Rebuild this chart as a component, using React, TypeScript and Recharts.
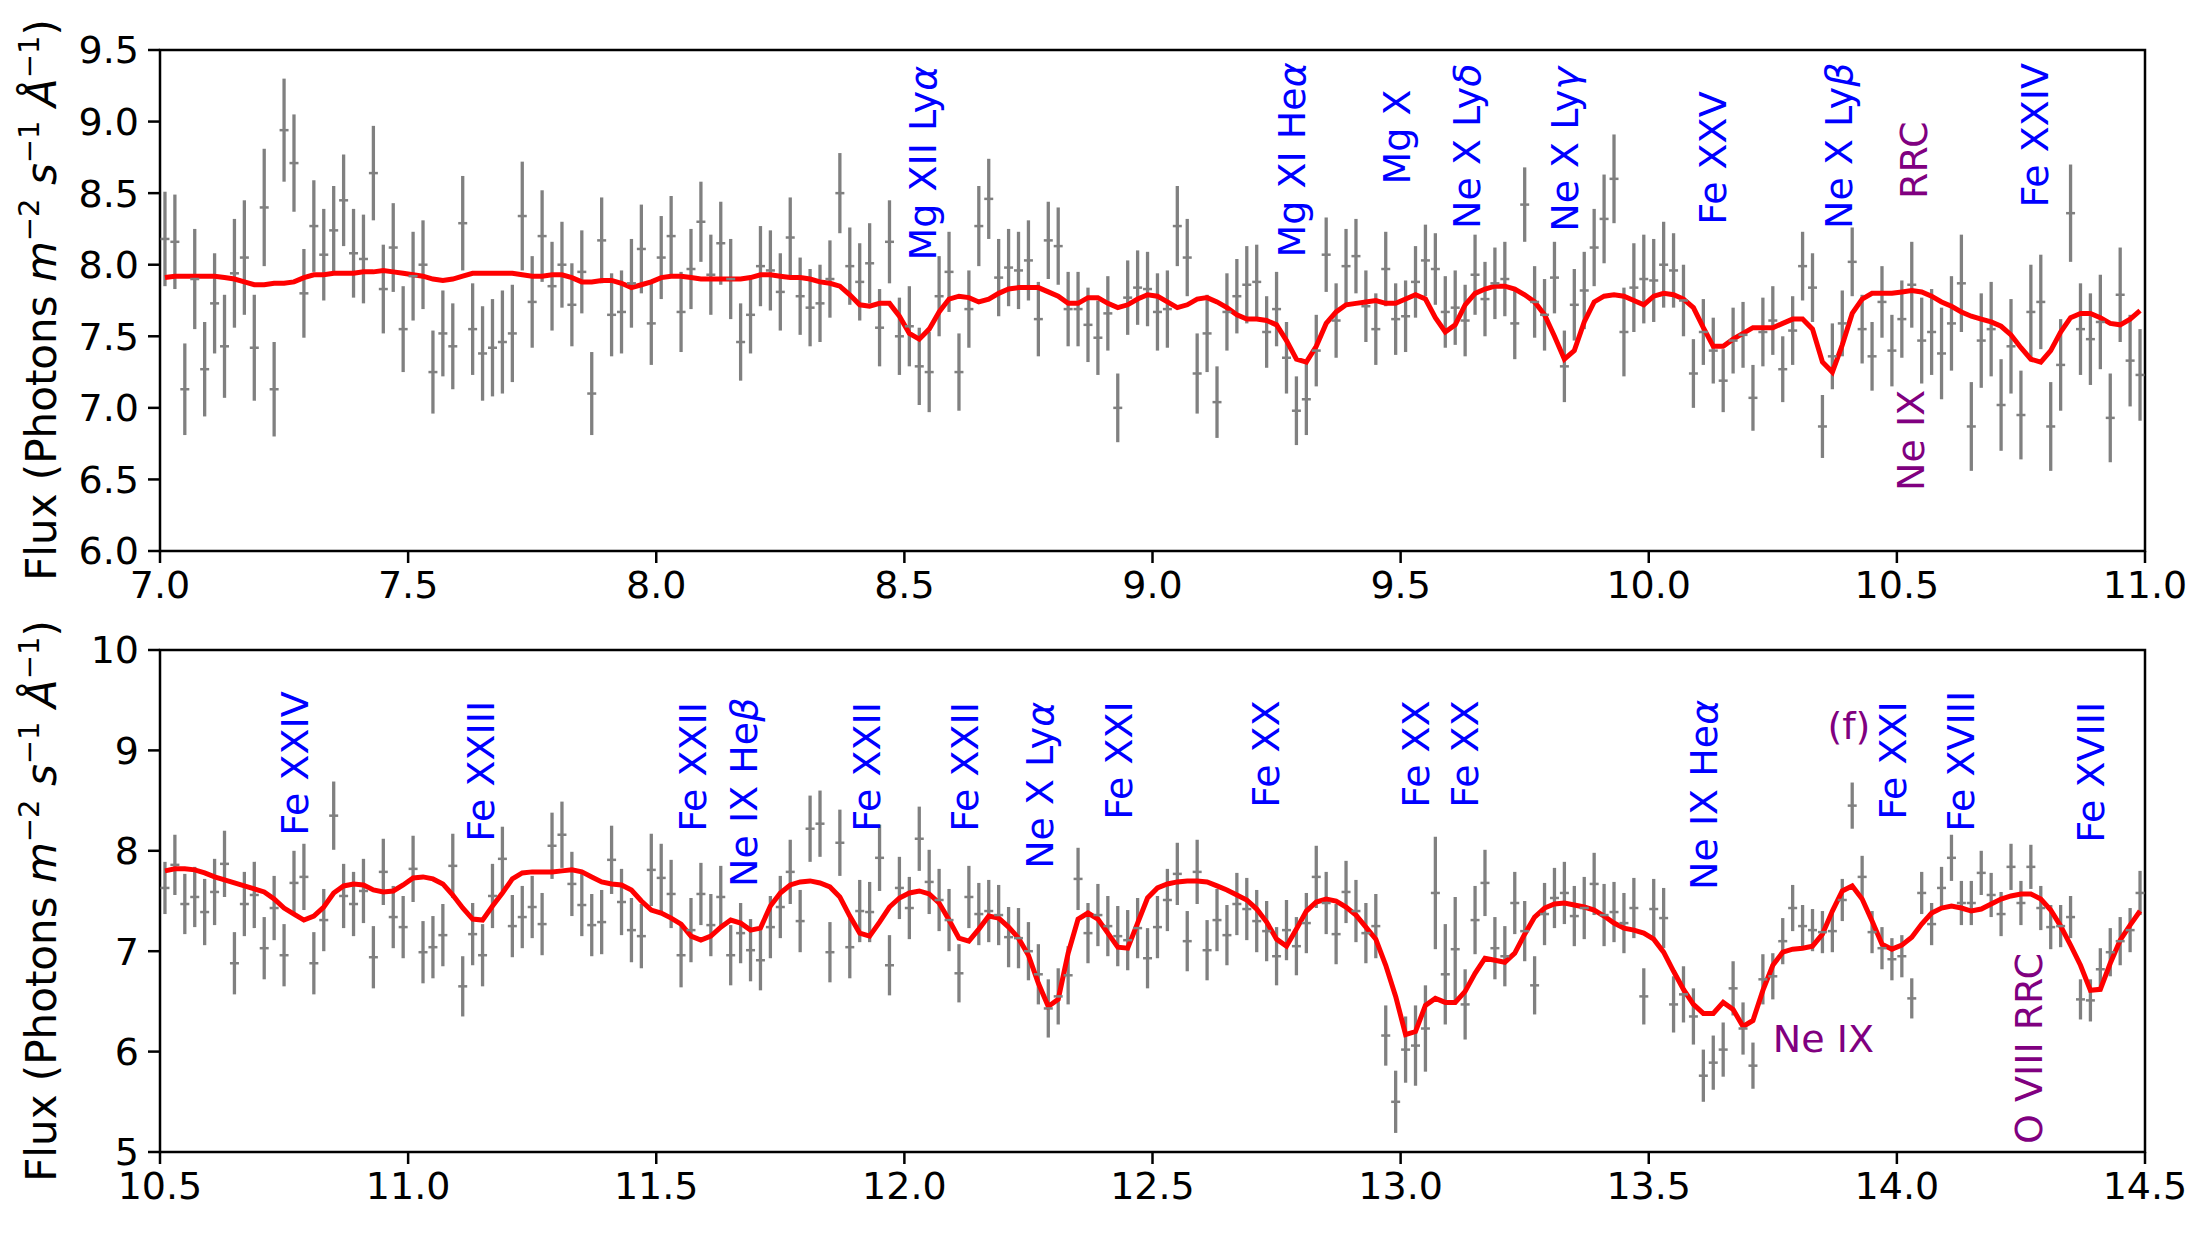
import React from "react";
import {
  ComposedChart,
  ErrorBar,
  Line,
  ReferenceArea,
  Scatter,
  XAxis,
  YAxis,
} from "recharts";

const BLUE = "#0000ff";
const PURPLE = "#800080";
const GREY = "#808080";
const FONT = "DejaVu Sans";

// wavelength grid: bins of 0.02 A, first bin centre given per panel
const STEP = 0.02;
const topStart = 7.01;
const bottomStart = 10.51;

const topXTicks = [7, 7.5, 8, 8.5, 9, 9.5, 10, 10.5, 11];
const topYTicks = [6, 6.5, 7, 7.5, 8, 8.5, 9, 9.5];
const bottomXTicks = [10.5, 11, 11.5, 12, 12.5, 13, 13.5, 14, 14.5];
const bottomYTicks = [5, 6, 7, 8, 9, 10];

const topFlux = [
  8.18, 8.16, 7.13, 7.9, 7.27, 7.73, 7.43, 7.94, 8.05, 7.42,
  8.4, 7.13, 8.94, 8.71, 7.8, 8.27, 8.07, 8.24, 8.45, 8.08,
  8.04, 8.64, 7.83, 8.12, 7.55, 7.92, 8.0, 7.25, 7.52, 7.43,
  8.29, 7.55, 7.38, 7.42, 7.46, 7.52, 8.34, 7.74, 8.2, 7.85,
  8.0, 7.72, 7.95, 7.1, 8.17, 7.65, 7.67, 7.87, 8.11, 7.59,
  8.05, 8.2, 7.67, 7.97, 8.3, 7.93, 8.15, 7.9, 7.46, 7.65,
  7.99, 7.96, 7.81, 8.19, 7.78, 7.7, 7.73, 7.9, 8.5, 7.99,
  7.88, 8.01, 7.56, 8.16, 7.5, 7.57, 7.29, 7.25, 7.78, 7.95,
  7.25, 7.69, 8.27, 8.46, 7.91, 7.98, 7.96, 8.03, 7.62, 8.17,
  8.13, 7.69, 7.69, 7.58, 7.49, 7.66, 7.0, 7.77, 7.84, 7.83,
  7.67, 7.69, 8.27, 8.05, 7.24, 7.52, 7.04, 7.67, 7.78, 7.86,
  7.88, 7.53, 7.69, 7.35, 6.98, 7.06, 7.4, 8.07, 7.61, 7.99,
  8.06, 7.71, 7.55, 7.97, 7.62, 7.64, 7.88, 8.03, 7.97, 7.67,
  7.7, 7.61, 7.93, 7.76, 7.87, 7.9, 7.59, 8.42, 7.74, 7.65,
  7.91, 7.29, 7.72, 7.82, 8.12, 8.32, 8.6, 7.53, 7.84, 7.9,
  7.89, 8.0, 7.96, 7.75, 7.24, 7.53, 7.4, 7.19, 7.47, 7.51,
  7.07, 7.53, 7.61, 7.27, 7.54, 7.99, 7.84, 6.87, 7.36, 7.59,
  8.02, 7.55, 7.36, 7.74, 7.4, 7.62, 7.86, 7.47, 7.53, 7.38,
  7.59, 7.87, 6.87, 7.47, 7.55, 7.02, 7.43, 6.95, 7.67, 7.74,
  6.87, 7.3, 8.36, 7.55, 7.48, 7.6, 6.93, 7.79, 7.33, 7.23,
];

const topErr = [
  0.33, 0.33, 0.32, 0.35, 0.33, 0.35, 0.36, 0.38, 0.4, 0.37,
  0.41, 0.33, 0.36, 0.34, 0.31, 0.32, 0.32, 0.31, 0.32, 0.31,
  0.31, 0.33, 0.31, 0.31, 0.3, 0.31, 0.31, 0.29, 0.3, 0.3,
  0.33, 0.32, 0.33, 0.34, 0.36, 0.34, 0.38, 0.32, 0.32, 0.31,
  0.3, 0.29, 0.29, 0.29, 0.3, 0.29, 0.29, 0.31, 0.31, 0.29,
  0.29, 0.28, 0.28, 0.28, 0.28, 0.28, 0.29, 0.28, 0.27, 0.27,
  0.28, 0.28, 0.27, 0.28, 0.27, 0.27, 0.27, 0.27, 0.28, 0.27,
  0.27, 0.28, 0.27, 0.29, 0.27, 0.28, 0.27, 0.28, 0.28, 0.28,
  0.27, 0.27, 0.28, 0.28, 0.27, 0.27, 0.27, 0.28, 0.26, 0.27,
  0.27, 0.26, 0.26, 0.26, 0.26, 0.26, 0.24, 0.26, 0.26, 0.26,
  0.27, 0.27, 0.28, 0.27, 0.28, 0.27, 0.25, 0.27, 0.26, 0.27,
  0.26, 0.25, 0.26, 0.25, 0.24, 0.25, 0.25, 0.26, 0.26, 0.26,
  0.26, 0.25, 0.25, 0.26, 0.25, 0.25, 0.25, 0.25, 0.25, 0.25,
  0.26, 0.25, 0.28, 0.26, 0.25, 0.26, 0.25, 0.26, 0.25, 0.25,
  0.25, 0.25, 0.25, 0.27, 0.27, 0.31, 0.31, 0.31, 0.31, 0.31,
  0.29, 0.3, 0.26, 0.25, 0.24, 0.23, 0.23, 0.22, 0.23, 0.23,
  0.23, 0.24, 0.24, 0.23, 0.24, 0.24, 0.24, 0.22, 0.23, 0.23,
  0.24, 0.24, 0.24, 0.25, 0.25, 0.27, 0.3, 0.3, 0.3, 0.32,
  0.33, 0.34, 0.31, 0.33, 0.33, 0.32, 0.33, 0.31, 0.33, 0.33,
  0.31, 0.32, 0.34, 0.32, 0.32, 0.33, 0.31, 0.33, 0.32, 0.32,
];

const topModel = [
  7.91, 7.92, 7.92, 7.92, 7.92, 7.92, 7.91, 7.9, 7.88, 7.86,
  7.86, 7.87, 7.87, 7.88, 7.91, 7.93, 7.93, 7.94, 7.94, 7.94,
  7.95, 7.95, 7.96, 7.95, 7.94, 7.93, 7.92, 7.9, 7.89, 7.9,
  7.92, 7.94, 7.94, 7.94, 7.94, 7.94, 7.93, 7.92, 7.92, 7.93,
  7.93, 7.91, 7.88, 7.88, 7.89, 7.89, 7.87, 7.84, 7.86, 7.88,
  7.91, 7.92, 7.92, 7.91, 7.9, 7.9, 7.9, 7.9, 7.9, 7.91,
  7.93, 7.93, 7.92, 7.91, 7.91, 7.9, 7.88, 7.87, 7.85, 7.79,
  7.72, 7.71, 7.73, 7.73, 7.64, 7.52, 7.48, 7.55, 7.67, 7.76,
  7.78, 7.77, 7.74, 7.76, 7.8, 7.83, 7.84, 7.84, 7.84, 7.81,
  7.78, 7.73, 7.73, 7.77, 7.77, 7.73, 7.7, 7.72, 7.76, 7.79,
  7.78, 7.74, 7.7, 7.72, 7.76, 7.77, 7.74, 7.7, 7.65, 7.62,
  7.62, 7.61, 7.58, 7.47, 7.34, 7.32, 7.43, 7.59, 7.67, 7.72,
  7.73, 7.74, 7.75, 7.73, 7.73, 7.76, 7.79, 7.76, 7.63, 7.53,
  7.58, 7.72, 7.8, 7.83, 7.85, 7.85, 7.83, 7.79, 7.74, 7.65,
  7.5, 7.34, 7.4, 7.6, 7.74, 7.78, 7.79, 7.78, 7.75, 7.72,
  7.78, 7.8, 7.79, 7.76, 7.7, 7.56, 7.43, 7.43, 7.48, 7.52,
  7.56, 7.56, 7.56, 7.59, 7.62, 7.62, 7.55, 7.32, 7.25, 7.44,
  7.66, 7.76, 7.8, 7.8, 7.8, 7.81, 7.82, 7.81, 7.78, 7.74,
  7.71, 7.67, 7.64, 7.62, 7.6, 7.57, 7.51, 7.42, 7.34, 7.32,
  7.4, 7.53, 7.63, 7.66, 7.66, 7.63, 7.59, 7.58, 7.62, 7.68,
];

const bottomFlux = [
  7.63, 7.86, 7.47, 7.54, 7.39, 7.59, 7.87, 6.88, 7.47, 7.56,
  7.03, 7.43, 6.96, 7.68, 7.74, 6.88, 7.31, 8.35, 7.55, 7.47,
  7.6, 6.94, 7.79, 7.34, 7.24, 7.82, 6.99, 7.04, 7.16, 7.85,
  6.65, 7.17, 6.96, 7.55, 7.92, 7.25, 7.34, 7.44, 7.27, 8.05,
  8.16, 7.67, 7.46, 7.26, 7.29, 7.91, 7.49, 7.21, 7.15, 7.81,
  7.73, 7.57, 6.96, 7.21, 7.57, 7.26, 7.54, 6.96, 7.18, 7.01,
  6.91, 7.24, 7.44, 7.79, 7.3, 8.22, 8.27, 6.99, 8.08, 7.04,
  7.4, 7.39, 7.93, 6.86, 7.63, 7.43, 8.12, 7.69, 7.51, 7.31,
  6.78, 7.54, 7.37, 7.4, 7.36, 7.14, 7.13, 7.0, 6.77, 6.43,
  6.55, 6.76, 7.72, 7.18, 7.36, 7.25, 7.15, 7.11, 7.23, 6.93,
  7.24, 7.51, 7.77, 7.1, 7.79, 7.01, 7.31, 7.16, 7.47, 7.42,
  7.3, 7.2, 6.95, 7.21, 7.05, 7.28, 7.74, 7.48, 7.17, 7.59,
  7.4, 7.18, 7.25, 6.16, 5.5, 6.02, 6.06, 6.23, 7.58, 6.77,
  7.02, 6.47, 7.31, 7.68, 7.03, 6.95, 7.48, 7.2, 6.66, 7.37,
  7.53, 7.58, 7.35, 7.43, 7.67, 7.36, 7.39, 7.28, 7.43, 6.55,
  7.42, 7.33, 6.47, 6.57, 6.35, 5.76, 5.89, 6.02, 6.63, 6.23,
  5.86, 6.72, 6.75, 7.1, 7.43, 7.25, 7.21, 7.19, 7.2, 7.51,
  8.45, 7.74, 7.19, 7.03, 6.92, 6.95, 6.53, 7.58, 7.27, 7.63,
  7.93, 7.48, 7.48, 7.78, 7.56, 7.37, 7.84, 7.48, 7.84, 7.43,
  7.24, 7.25, 7.34, 6.52, 6.51, 6.82, 6.99, 7.1, 7.21, 7.58,
];

const bottomErr = [
  0.26, 0.3, 0.3, 0.3, 0.33, 0.33, 0.33, 0.31, 0.32, 0.33,
  0.31, 0.32, 0.31, 0.32, 0.33, 0.31, 0.31, 0.34, 0.32, 0.32,
  0.32, 0.31, 0.33, 0.31, 0.31, 0.33, 0.31, 0.31, 0.31, 0.32,
  0.3, 0.31, 0.31, 0.32, 0.32, 0.31, 0.31, 0.31, 0.31, 0.33,
  0.33, 0.32, 0.31, 0.31, 0.32, 0.34, 0.33, 0.32, 0.32, 0.36,
  0.34, 0.34, 0.32, 0.32, 0.31, 0.31, 0.31, 0.3, 0.3, 0.31,
  0.3, 0.31, 0.31, 0.32, 0.31, 0.33, 0.33, 0.3, 0.33, 0.31,
  0.31, 0.3, 0.33, 0.3, 0.31, 0.31, 0.32, 0.32, 0.31, 0.31,
  0.29, 0.31, 0.31, 0.31, 0.3, 0.3, 0.3, 0.29, 0.3, 0.29,
  0.28, 0.29, 0.31, 0.3, 0.31, 0.3, 0.3, 0.3, 0.3, 0.3,
  0.31, 0.31, 0.31, 0.3, 0.32, 0.3, 0.31, 0.3, 0.31, 0.31,
  0.31, 0.3, 0.29, 0.3, 0.29, 0.3, 0.31, 0.31, 0.3, 0.31,
  0.31, 0.3, 0.32, 0.3, 0.31, 0.33, 0.4, 0.43, 0.56, 0.5,
  0.52, 0.35, 0.34, 0.33, 0.31, 0.3, 0.31, 0.3, 0.29, 0.31,
  0.3, 0.31, 0.3, 0.31, 0.31, 0.31, 0.3, 0.3, 0.3, 0.28,
  0.3, 0.3, 0.28, 0.28, 0.28, 0.26, 0.27, 0.27, 0.27, 0.26,
  0.23, 0.25, 0.23, 0.23, 0.23, 0.21, 0.21, 0.21, 0.21, 0.21,
  0.23, 0.21, 0.21, 0.21, 0.21, 0.21, 0.2, 0.21, 0.21, 0.21,
  0.23, 0.22, 0.22, 0.22, 0.22, 0.22, 0.23, 0.22, 0.22, 0.22,
  0.22, 0.21, 0.21, 0.2, 0.21, 0.21, 0.24, 0.24, 0.22, 0.22,
];

const bottomModel = [
  7.8, 7.82, 7.82, 7.81, 7.78, 7.74, 7.71, 7.68, 7.65, 7.62,
  7.59, 7.52, 7.43, 7.37, 7.31, 7.35, 7.44, 7.58, 7.65, 7.67,
  7.66, 7.61, 7.59, 7.6, 7.66, 7.73, 7.74, 7.72, 7.67, 7.56,
  7.43, 7.32, 7.31, 7.45, 7.58, 7.72, 7.78, 7.79, 7.79, 7.79,
  7.8, 7.81, 7.79, 7.74, 7.69, 7.67, 7.66, 7.61, 7.5, 7.41,
  7.38, 7.33, 7.27, 7.15, 7.11, 7.15, 7.24, 7.31, 7.28, 7.21,
  7.23, 7.45, 7.58, 7.66, 7.69, 7.7, 7.68, 7.64, 7.54, 7.35,
  7.18, 7.15, 7.29, 7.44, 7.53, 7.58, 7.6, 7.57, 7.48, 7.31,
  7.13, 7.1, 7.22, 7.35, 7.33, 7.24, 7.13, 6.96, 6.68, 6.45,
  6.52, 6.98, 7.32, 7.38, 7.32, 7.18, 7.04, 7.03, 7.28, 7.53,
  7.63, 7.67, 7.69, 7.7, 7.7, 7.69, 7.65, 7.61, 7.56, 7.51,
  7.42, 7.29, 7.12, 7.05, 7.22, 7.4, 7.49, 7.52, 7.5, 7.44,
  7.36, 7.24, 7.12, 6.86, 6.55, 6.17, 6.2, 6.46, 6.53, 6.49,
  6.49, 6.6, 6.78, 6.93, 6.91, 6.89, 6.98, 7.17, 7.34, 7.43,
  7.47, 7.48, 7.46, 7.44, 7.41, 7.35, 7.28, 7.23, 7.21, 7.18,
  7.12, 6.99, 6.8, 6.62, 6.47, 6.38, 6.38, 6.49, 6.42, 6.25,
  6.31, 6.61, 6.86, 6.99, 7.02, 7.03, 7.05, 7.17, 7.4, 7.6,
  7.65, 7.52, 7.3, 7.07, 7.02, 7.06, 7.14, 7.27, 7.38, 7.43,
  7.45, 7.43, 7.4, 7.42, 7.47, 7.52, 7.55, 7.57, 7.57, 7.52,
  7.41, 7.25, 7.06, 6.86, 6.61, 6.62, 6.88, 7.11, 7.26, 7.4,
];

type LineLabel = { x: number; y: number; text: string; color: string; flat?: boolean };

const topLabels: LineLabel[] = [
  { x: 8.563, y: 8.03, text: "Mg XII Lyα", color: BLUE },
  { x: 9.307, y: 8.05, text: "Mg XI Heα", color: BLUE },
  { x: 9.519, y: 8.56, text: "Mg X", color: BLUE },
  { x: 9.66, y: 8.25, text: "Ne X Lyδ", color: BLUE },
  { x: 9.858, y: 8.23, text: "Ne X Lyγ", color: BLUE },
  { x: 10.155, y: 8.28, text: "Fe XXV", color: BLUE },
  { x: 10.409, y: 8.25, text: "Ne X Lyβ", color: BLUE },
  { x: 10.56, y: 8.46, text: "RRC", color: PURPLE },
  { x: 10.804, y: 8.4, text: "Fe XXIV", color: BLUE },
  { x: 10.554, y: 6.42, text: "Ne IX", color: PURPLE },
];

const bottomLabels: LineLabel[] = [
  { x: 10.799, y: 8.15, text: "Fe XXIV", color: BLUE },
  { x: 11.173, y: 8.09, text: "Fe XXIII", color: BLUE },
  { x: 11.601, y: 8.19, text: "Fe XXII", color: BLUE },
  { x: 11.703, y: 7.64, text: "Ne IX Heβ", color: BLUE },
  { x: 11.95, y: 8.19, text: "Fe XXII", color: BLUE },
  { x: 12.148, y: 8.19, text: "Fe XXII", color: BLUE },
  { x: 12.3, y: 7.82, text: "Ne X Lyα", color: BLUE },
  { x: 12.458, y: 8.31, text: "Fe XXI", color: BLUE },
  { x: 12.755, y: 8.43, text: "Fe XX", color: BLUE },
  { x: 13.057, y: 8.43, text: "Fe XX", color: BLUE },
  { x: 13.156, y: 8.43, text: "Fe XX", color: BLUE },
  { x: 13.638, y: 7.61, text: "Ne IX Heα", color: BLUE },
  { x: 14.018, y: 8.31, text: "Fe XXI", color: BLUE },
  { x: 14.156, y: 8.19, text: "Fe XVIII", color: BLUE },
  { x: 14.417, y: 8.08, text: "Fe XVIII", color: BLUE },
  { x: 14.293, y: 5.08, text: "O VIII RRC", color: PURPLE },
  { x: 13.86, y: 9.11, text: "(f)", color: PURPLE, flat: true },
  { x: 13.75, y: 6.0, text: "Ne IX", color: PURPLE, flat: true },
];

function buildRows(start: number, flux: number[], err: number[], model: number[]) {
  return flux.map((f, i) => ({
    x: Math.round((start + STEP * i) * 1000) / 1000,
    flux: f,
    err: err[i],
    model: model[i],
  }));
}

const topRows = buildRows(topStart, topFlux, topErr, topModel);
const bottomRows = buildRows(bottomStart, bottomFlux, bottomErr, bottomModel);

const Dash = (p: any) => (
  <line x1={p.cx - 4.5} x2={p.cx + 4.5} y1={p.cy} y2={p.cy} stroke={GREY} strokeWidth={2.5} />
);

function LabelMark(p: any) {
  const { cx, cy, payload } = p;
  const m = /^(.*?)([αβγδ])$/.exec(payload.text);
  const body = m ? m[1] : payload.text;
  const greek = m ? m[2] : "";
  return (
    <text
      x={cx}
      y={cy}
      transform={payload.flat ? undefined : `rotate(-90 ${cx} ${cy})`}
      fill={payload.color}
      fontSize={38}
      fontFamily={FONT}
    >
      {body}
      {greek && <tspan fontStyle="italic">{greek}</tspan>}
    </text>
  );
}

const tickStyle = { fill: "#000", fontSize: 38, fontFamily: FONT };
const tickLine = { stroke: "#000", strokeWidth: 2.5 };

type PanelProps = {
  rows: ReturnType<typeof buildRows>;
  labels: LineLabel[];
  xDomain: [number, number];
  yDomain: [number, number];
  xTicks: number[];
  yTicks: number[];
  yFmt: (v: number) => string;
  top: number;
  xAxisHeight: number;
};

function Panel(props: PanelProps) {
  const { rows, labels, xDomain, yDomain, xTicks, yTicks, yFmt, top, xAxisHeight } = props;
  return (
    <ComposedChart
      width={2199}
      height={617}
      data={rows}
      margin={{ top, right: 54, bottom: 0, left: 0 }}
    >
      <XAxis
        dataKey="x"
        type="number"
        domain={xDomain}
        ticks={xTicks}
        interval={0}
        allowDataOverflow
        tickFormatter={(v: number) => v.toFixed(1)}
        tick={tickStyle}
        tickLine={tickLine}
        tickSize={12}
        tickMargin={8}
        axisLine={false}
        height={xAxisHeight}
      />
      <YAxis
        type="number"
        domain={yDomain}
        ticks={yTicks}
        interval={0}
        allowDataOverflow
        tickFormatter={yFmt}
        tick={tickStyle}
        tickLine={tickLine}
        tickSize={12}
        tickMargin={9}
        axisLine={false}
        width={160}
      />
      <Scatter data={rows} dataKey="flux" shape={Dash} isAnimationActive={false}>
        <ErrorBar dataKey="err" direction="y" width={0} stroke={GREY} strokeWidth={3.3} />
      </Scatter>
      <Line
        dataKey="model"
        type="linear"
        stroke="#ff0000"
        strokeWidth={5}
        dot={false}
        isAnimationActive={false}
      />
      <Scatter data={labels} dataKey="y" shape={LabelMark} isAnimationActive={false} />
      <ReferenceArea
        x1={xDomain[0]}
        x2={xDomain[1]}
        y1={yDomain[0]}
        y2={yDomain[1]}
        fill="none"
        fillOpacity={0}
        stroke="#000"
        strokeWidth={2.5}
        ifOverflow="visible"
      />
    </ComposedChart>
  );
}

function FluxLabel({ cx, cy }: { cx: number; cy: number }) {
  return (
    <text
      transform={`translate(${cx} ${cy}) rotate(-90)`}
      textAnchor="middle"
      fontSize={42}
      fontFamily={FONT}
      fill="#000"
    >
      {"Flux (Photons "}
      <tspan fontStyle="italic">m</tspan>
      <tspan fontSize={29} dy={-17}>{"−2"}</tspan>
      <tspan dy={17}>{" "}</tspan>
      <tspan fontStyle="italic">s</tspan>
      <tspan fontSize={29} dy={-17}>{"−1"}</tspan>
      <tspan dy={17}>{" "}</tspan>
      <tspan fontStyle="italic">Å</tspan>
      <tspan fontSize={29} dy={-17}>{"−1"}</tspan>
      <tspan dy={17}>{")"}</tspan>
    </text>
  );
}

export default function App() {
  return (
    <div
      style={{
        position: "absolute",
        left: 0,
        top: 0,
        width: 2199,
        height: 1234,
        background: "#fff",
        overflow: "hidden",
      }}
    >
      <div style={{ position: "absolute", left: 0, top: 0 }}>
        <Panel
          rows={topRows}
          labels={topLabels}
          xDomain={[7, 11]}
          yDomain={[6, 9.5]}
          xTicks={topXTicks}
          yTicks={topYTicks}
          yFmt={(v) => v.toFixed(1)}
          top={50}
          xAxisHeight={66}
        />
      </div>
      <div style={{ position: "absolute", left: 0, top: 617 }}>
        <Panel
          rows={bottomRows}
          labels={bottomLabels}
          xDomain={[10.5, 14.5]}
          yDomain={[5, 10]}
          xTicks={bottomXTicks}
          yTicks={bottomYTicks}
          yFmt={(v) => String(v)}
          top={33}
          xAxisHeight={82}
        />
      </div>
      <svg
        width={2199}
        height={1234}
        style={{ position: "absolute", left: 0, top: 0, pointerEvents: "none" }}
      >
        <FluxLabel cx={56} cy={300} />
        <FluxLabel cx={56} cy={901} />
      </svg>
    </div>
  );
}
